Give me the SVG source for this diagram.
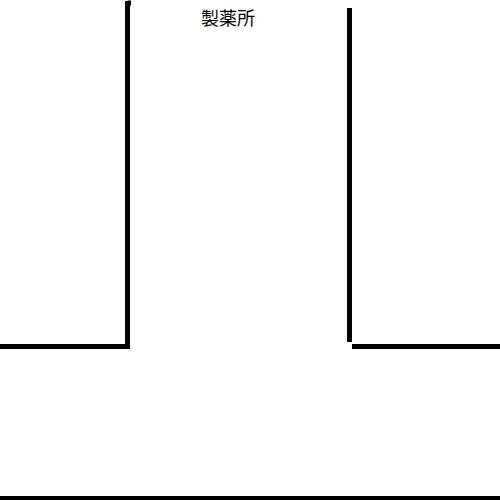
<svg xmlns="http://www.w3.org/2000/svg" width="500" height="500" viewBox="0 0 500 500">
<style>
.wall{stroke:#000;stroke-width:5;fill:none;stroke-linecap:butt}
.lbl{font-family:"Noto Sans CJK JP","Noto Sans CJK SC",sans-serif;font-size:18px;fill:#000;text-anchor:middle}
</style>
<rect width="500" height="500" fill="#fff"/>
<g id="walls">
<polyline class="wall" points="0,346.5 127.5,346.5 127.5,1"/>
<line class="wall" x1="127.5" y1="3" x2="131" y2="3" stroke-width="4"/>
<line class="wall" x1="349.5" y1="8" x2="349.5" y2="342"/>
<line class="wall" x1="352" y1="346.5" x2="500" y2="346.5"/>
<line class="wall" x1="0" y1="498.5" x2="500" y2="498.5" stroke-width="3.5"/>
</g>
<g id="label">
<text class="lbl" x="228" y="24.5">製薬所</text>
</g>
</svg>
